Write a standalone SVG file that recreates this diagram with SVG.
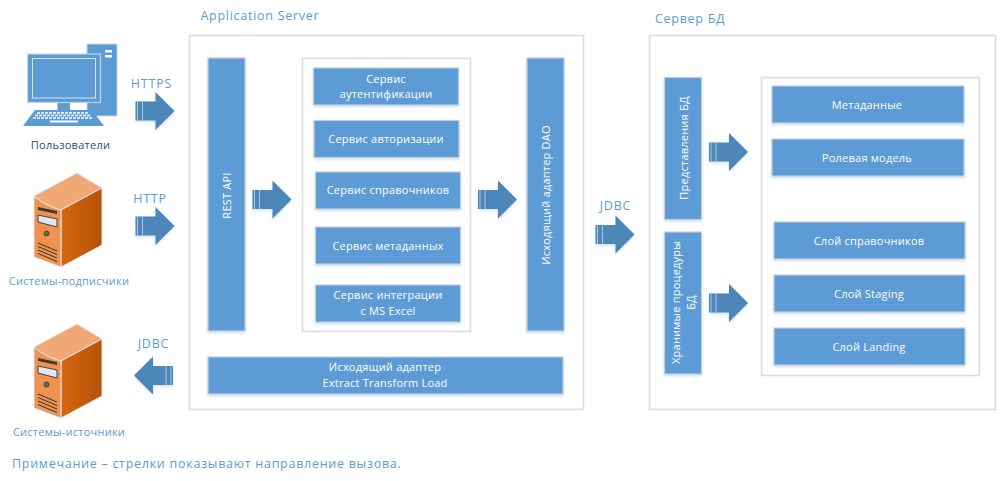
<svg xmlns="http://www.w3.org/2000/svg" width="1001" height="481" viewBox="0 0 1001 481">
<style>
text{font-family:"Open Sans","Noto Sans","Liberation Sans",sans-serif}
.b{fill:#5b9bd5;stroke:#c4ced9;stroke-width:1.2;filter:url(#sh)}
.f{fill:#fff;stroke:#d8dde2;stroke-width:1.6}
.t{fill:#fff;font-size:11px;text-anchor:middle;letter-spacing:.22px}
.h{fill:#5b9bd5;font-size:12.5px;letter-spacing:.72px}
.l{fill:#5b9bd5;font-size:12.5px;text-anchor:middle;letter-spacing:.8px}
.c{font-size:11px;text-anchor:middle;letter-spacing:.25px}
</style>
<defs>
<filter id="sh" x="-20%" y="-20%" width="140%" height="140%"><feDropShadow dx="0" dy="1.500" stdDeviation="1.500" flood-color="#5b9bd5" flood-opacity=".3"/></filter>
<linearGradient id="sv" x1="0" y1="0" x2="1" y2="0"><stop offset="0" stop-color="#d8660f"/><stop offset="1" stop-color="#b35208"/></linearGradient>
<g id="arrow">
<path d="M0 9.500H20V0L39 19L20 38V28.500H0Z" fill="#4e86b9" filter="url(#sh)"/>
<path d="M2 9.500V28.500M7 9.500V28.500" stroke="#a9c6e0" stroke-width="1" fill="none"/>
</g>
<g id="server">
<path d="M34 196L77 173L102 188L61 210Q45 206 34 196Z" fill="#f2a874" stroke="#e3e6ea"/>
<path d="M61 210L102 188V245L61 267Z" fill="url(#sv)" stroke="#e3e6ea"/>
<path d="M34 196Q45 206 61 210V267L34 257Z" fill="#f0914f" stroke="#e3e6ea"/>
<path d="M38 207L57 211V214L38 210Z" fill="#3c3c3c"/>
<path d="M38 215L57 219V227L38 222Z" fill="#dfe6ee" stroke="#444" stroke-width="1"/>
<circle cx="46.500" cy="233.500" r="2.500" fill="#5d6b4c" stroke="#333" stroke-width=".8"/>
<path d="M38 243L57 251M38 246.500L57 254.500M38 250L57 258M38 253.500L57 261.500" stroke="#333" stroke-width="1" fill="none"/>
</g>
</defs>

<text class="h" x="200.500" y="20">Application Server</text>
<text class="h" x="655" y="23">Сервер БД</text>

<g id="computer">
<rect x="87" y="44" width="30" height="72" fill="#5b9bd5" stroke="#c9d3de"/>
<rect x="105" y="50" width="7" height="2.500" fill="#fff"/>
<rect x="105" y="55" width="7" height="2.500" fill="#fff"/>
<rect x="57.500" y="102" width="12.500" height="9" fill="#5b9bd5"/>
<rect x="27.500" y="54" width="73" height="48.500" fill="#5b9bd5" stroke="#c9d3de" stroke-width="1.200"/>
<rect x="32.500" y="58.500" width="63" height="39.500" fill="#5b9bd5" stroke="#d6e6f5" stroke-width="1"/>
<path d="M35 110H92L104 126H23Z" fill="#5b9bd5"/>
<path d="M37 113H88M35 115.500H90M33 118H92" stroke="#fff" stroke-width="1.500" stroke-dasharray="3 1" fill="none"/>
<rect x="50" y="120.500" width="28" height="2" fill="#fff"/>
<text class="c" x="70.500" y="149" fill="#1f4e79">Пользователи</text>
</g>
<g id="subscribers">
<use href="#server"/>
<text class="c" x="69" y="285" fill="#5b9bd5">Системы-подписчики</text>
</g>
<g id="sources">
<use href="#server" y="151"/>
<text class="c" x="69" y="436" fill="#5b9bd5">Системы-источники</text>
</g>

<g id="app-server"><rect class="f" x="189.500" y="35.500" width="394" height="374"/></g>
<g id="services-frame"><rect class="f" x="302.500" y="58.500" width="168" height="273"/></g>
<g id="db-server"><rect class="f" x="649.500" y="35.500" width="346" height="374"/></g>
<g id="db-frame"><rect class="f" x="761.500" y="77.500" width="218" height="298"/></g>

<g id="rest-api"><rect class="b" x="208" y="58" width="37" height="273"/>
<text class="t" transform="translate(231 195.500) rotate(-90)">REST API</text></g>
<g id="svc-auth"><rect class="b" x="313.500" y="68" width="145" height="37"/>
<text class="t" x="386" y="83">Сервис</text><text class="t" x="386" y="98">аутентификации</text></g>
<g id="svc-authz"><rect class="b" x="314" y="120.500" width="145" height="37"/>
<text class="t" x="386" y="143">Сервис авторизации</text></g>
<g id="svc-dict"><rect class="b" x="315.500" y="172" width="145" height="37"/>
<text class="t" x="388" y="194">Сервис справочников</text></g>
<g id="svc-meta"><rect class="b" x="315.500" y="227" width="145" height="37"/>
<text class="t" x="388" y="250">Сервис метаданных</text></g>
<g id="svc-excel"><rect class="b" x="315.500" y="285" width="145" height="37"/>
<text class="t" x="388" y="299">Сервис интеграции</text><text class="t" x="388" y="315">с MS Excel</text></g>
<g id="dao"><rect class="b" x="527" y="58" width="37" height="273"/>
<text class="t" transform="translate(549.500 195) rotate(-90)">Исходящий адаптер DAO</text></g>
<g id="etl"><rect class="b" x="208" y="357" width="355" height="37"/>
<text class="t" x="385" y="371">Исходящий адаптер</text><text class="t" x="385" y="387">Extract Transform Load</text></g>

<g id="db-views"><rect class="b" x="664.500" y="77.500" width="37" height="142"/>
<text class="t" transform="translate(687.500 148) rotate(-90)">Представления БД</text></g>
<g id="db-procs"><rect class="b" x="664.500" y="232" width="37" height="142"/>
<text class="t" transform="translate(680 302.500) rotate(-90)">Хранимые процедуры</text><text class="t" transform="translate(695 302.500) rotate(-90)">БД</text></g>
<g id="db-meta"><rect class="b" x="772" y="86" width="192" height="37"/>
<text class="t" x="867" y="109">Метаданные</text></g>
<g id="db-roles"><rect class="b" x="772" y="139" width="192" height="37"/>
<text class="t" x="867" y="162">Ролевая модель</text></g>
<g id="db-dict"><rect class="b" x="774" y="222" width="191" height="37"/>
<text class="t" x="869" y="245">Слой справочников</text></g>
<g id="db-staging"><rect class="b" x="774" y="275" width="191" height="37"/>
<text class="t" x="869" y="298">Слой Staging</text></g>
<g id="db-landing"><rect class="b" x="774" y="328" width="191" height="37"/>
<text class="t" x="869" y="351">Слой Landing</text></g>

<g id="connectors">
<use href="#arrow" x="135.500" y="92"/>
<use href="#arrow" x="135.500" y="207"/>
<use href="#arrow" transform="translate(173 394.500) scale(-1 1)" y="-38"/>
<use href="#arrow" x="252.500" y="180.500"/>
<use href="#arrow" x="478" y="180.500"/>
<use href="#arrow" x="595.500" y="215.500"/>
<use href="#arrow" x="709" y="133"/>
<use href="#arrow" x="709" y="284"/>
</g>

<text class="l" x="151.500" y="88">HTTPS</text>
<text class="l" x="150" y="203">HTTP</text>
<text class="l" x="153.500" y="348">JDBC</text>
<text class="l" x="615.500" y="210">JDBC</text>
<text class="h" x="12" y="468">Примечание – стрелки показывают направление вызова.</text>
</svg>
